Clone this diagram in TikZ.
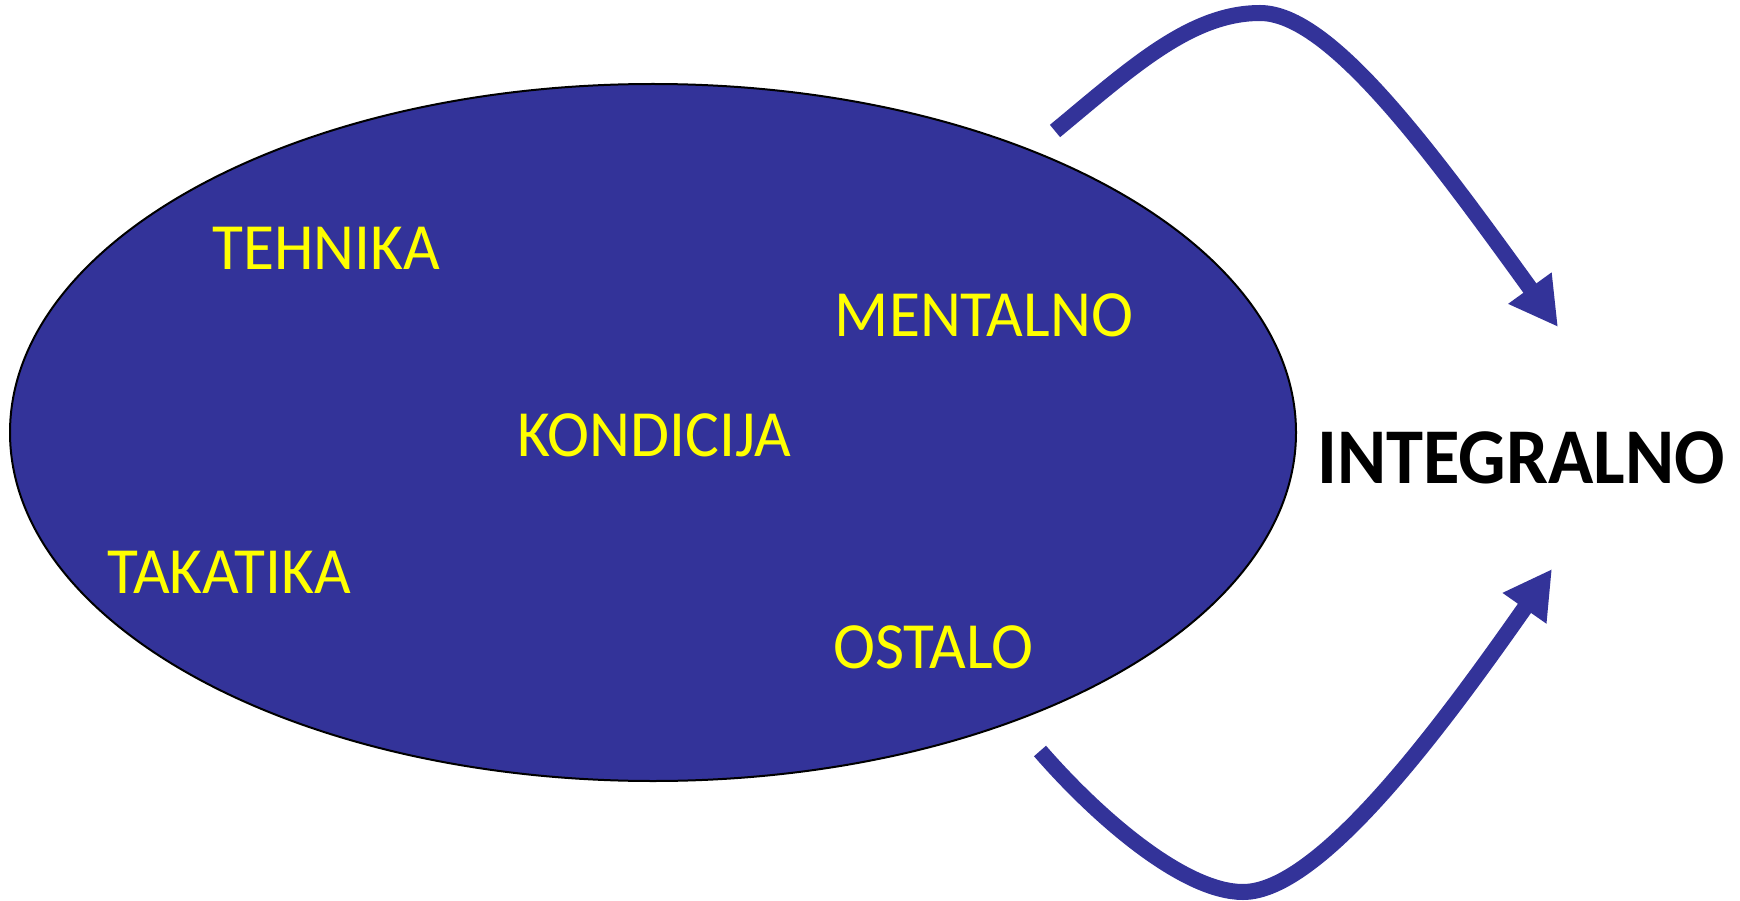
\documentclass[tikz,border=0pt]{standalone}
\usepackage{graphicx}
\usepackage{fontspec}
\setmainfont{Carlito}
\usetikzlibrary{arrows.meta,shapes.geometric}
\definecolor{dblue}{RGB}{51,51,153}
\definecolor{yel}{RGB}{255,255,0}
\newcommand\sqz[2]{\scalebox{#1}[1]{#2}}
\begin{document}
\begin{tikzpicture}[x=1pt,y=-1pt,
  lbl/.style={text=yel, font=\fontsize{66}{66}\selectfont, anchor=base, inner sep=0pt},
  big/.style={text=black, font=\bfseries\fontsize{79}{79}\selectfont, anchor=base, inner sep=0pt},
  arr/.style={draw=dblue, line width=16pt, -{Triangle[length=48pt,width=50pt]}}]
\fill[white] (0,0) rectangle (1740,901);
\useasboundingbox (0,0) rectangle (1740,901);
\node[ellipse, draw=black, fill=dblue, line width=2pt, minimum width=1286pt, minimum height=697pt, inner sep=0pt] (ell) at (653,432.5) {};
\node[lbl] (tehnika) at (326.5,270) {\sqz{0.96}{TEHNIKA}};
\node[lbl] (mentalno) at (984,336) {\sqz{0.96}{MENTALNO}};
\node[lbl] (kondicija) at (654.5,456) {\sqz{0.96}{KONDICIJA}};
\node[lbl] (takatika) at (229,593) {\sqz{0.96}{TAKATIKA}};
\node[lbl] (ostalo) at (933.5,668) {\sqz{0.96}{OSTALO}};
\node[big] (integralno) at (1521,483) {\sqz{0.945}{INTEGRALNO}};
\coordinate (u0) at (1055,131);
\coordinate (u1) at (1260,13);
\coordinate (u2) at (1558,327);
\coordinate (l0) at (1040,751);
\coordinate (l1) at (1243,892);
\coordinate (l2) at (1552,569);
\draw[arr] (u0) .. controls (1130,69) and (1190,13) .. (u1) .. controls (1330,13) and (1430,150) .. (u2);
\draw[arr] (l0) .. controls (1100,820) and (1185,892) .. (l1) .. controls (1320,892) and (1442,726) .. (l2);
\end{tikzpicture}
\end{document}
